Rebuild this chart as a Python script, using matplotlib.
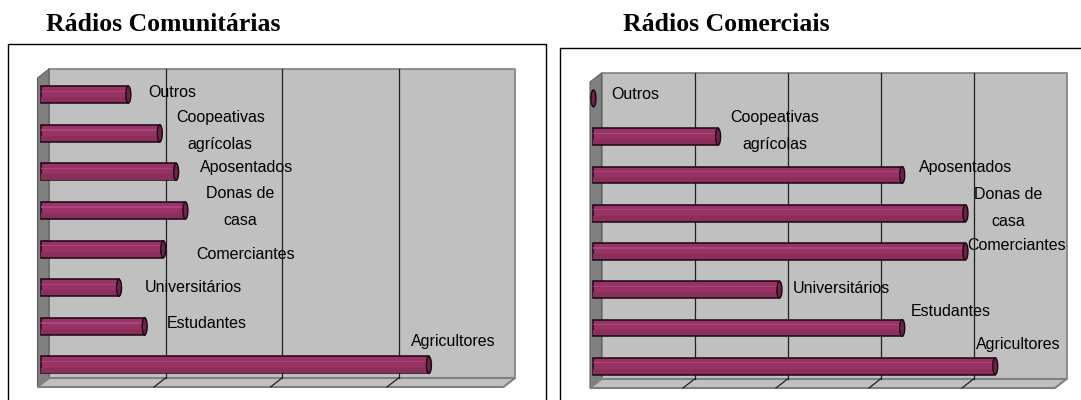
import numpy as np
import matplotlib.pyplot as plt
from matplotlib import font_manager
from matplotlib.patches import Rectangle, Polygon, Ellipse
from matplotlib.transforms import ScaledTranslation

# data (bottom -> top)
categories = ["Agricultores", "Estudantes", "Universitários", "Comerciantes",
              "Donas de\ncasa", "Aposentados", "Coopeativas\nagrícolas", "Outros"]
comunitarias = [33.3, 8.9, 6.7, 10.5, 12.4, 11.6, 10.2, 7.5]
comerciais = [21.6, 16.6, 10.0, 20.0, 20.0, 16.6, 6.7, 0.0]

# label offsets (pixels right, up) from bar end
offs_comunitarias = [(28, 26), (66, 6), (78, 3), (86, -3),
                     (58, 6), (74, 7), (64, 5), (47, 5)]
offs_comerciais = [(27, 24), (52, 19), (65, 4), (55, 9),
                   (46, 8), (67, 10), (60, 8), (45, 7)]

W, H = 1081, 400
DPI = 100
fig = plt.figure(figsize=(W / DPI, H / DPI), dpi=DPI)

names = {f.name for f in font_manager.fontManager.ttflist}
if "Liberation Sans Narrow" in names:
    lab_font, lab_size = "Liberation Sans Narrow", 13
else:
    lab_font, lab_size = "Liberation Sans", 11.5

BAR_C = "#993366"
CAP_C = "#6e2249"
EDGE_C = "#1a0510"
DEPTH = (11.5, 9.0)


def panel(box, title_x, front, xmax, step, values, offs, title):
    # outer frame
    bx0, by0, bx1 = box
    fig.patches.append(Rectangle((bx0 / W, -0.05), (bx1 - bx0) / W, 1 - by0 / H + 0.05,
                                 fill=False, ec="black", lw=1.0,
                                 transform=fig.transFigure, figure=fig))
    fig.text(title_x / W, 1 - 31 / H, title, ha="center", va="baseline",
             family="Liberation Serif", weight="bold", fontsize=18.5)

    x0, x1, ytop, ybot = front
    ax = fig.add_axes([x0 / W, 1 - ybot / H, (x1 - x0) / W, (ybot - ytop) / H])
    ax.set_xlim(0, xmax)
    ax.set_ylim(-0.5, len(values) - 0.5)
    ax.axis("off")
    dx = DEPTH[0] / (x1 - x0)
    dy = DEPTH[1] / (ybot - ytop)

    # walls
    ax.add_patch(Rectangle((dx, dy), 1, 1, transform=ax.transAxes, fc="#c0c0c0",
                           ec="#808080", lw=1.2, clip_on=False, zorder=0))
    ax.add_patch(Polygon([(0, 0), (0, 1), (dx, 1 + dy), (dx, dy)], closed=True,
                         transform=ax.transAxes, fc="#808080", ec="#606060", lw=0.8,
                         clip_on=False, zorder=0.5))
    ax.add_patch(Polygon([(0, 0), (1, 0), (1 + dx, dy), (dx, dy)], closed=True,
                         transform=ax.transAxes, fc="#c0c0c0", ec="#808080", lw=1.5,
                         clip_on=False, zorder=0.5))

    # gridlines on back wall and floor
    for v in np.arange(step, xmax, step):
        xa = v / xmax
        ax.plot([xa + dx, xa + dx], [dy, 1 + dy], transform=ax.transAxes,
                color="#202020", lw=0.9, clip_on=False, zorder=1)
        ax.plot([xa, xa + dx], [0, dy], transform=ax.transAxes,
                color="#202020", lw=0.9, clip_on=False, zorder=1)

    # cylinder bars
    shift = ax.transData + ScaledTranslation(DEPTH[0] * 0.3 / DPI, DEPTH[1] * 0.3 / DPI,
                                             fig.dpi_scale_trans)
    idx = np.arange(len(values))
    bh = 0.44
    bars = ax.barh(idx, values, height=bh, color=BAR_C, edgecolor=EDGE_C, lw=1.1,
                   zorder=2)
    for p in bars:
        p.set_transform(shift)
    ax.barh(idx + bh * 0.2, values, height=bh * 0.08, color="#a5497a", lw=0,
            zorder=2.1, transform=shift)
    ax.barh(idx - bh * 0.3, values, height=bh * 0.3, color="#8a2e5c", lw=0,
            zorder=2.1, transform=shift)
    cap_w = 5 * xmax / (x1 - x0)
    for i, v in zip(idx, values):
        ax.add_patch(Ellipse((v, i), cap_w, bh, fc=CAP_C, ec=EDGE_C, lw=1.0,
                             transform=shift, zorder=3, clip_on=False))

    # category labels
    for i, (v, cat, (ox, oy)) in enumerate(zip(values, categories, offs)):
        ax.annotate(cat, xy=(v, i), xytext=(ox, oy), textcoords="offset pixels",
                    ha="center", va="center", ma="center", family=lab_font,
                    fontsize=lab_size, linespacing=2.0, zorder=4,
                    annotation_clip=False)
    return ax


panel((8, 44, 546), 163, (37.5, 503.5, 78, 387), 40, 10, comunitarias,
      offs_comunitarias, "Rádios Comunitárias")
panel((560, 48, 1090), 726, (590, 1055, 82, 388), 25, 5, comerciais,
      offs_comerciais, "Rádios Comerciais")

fig.savefig("out.png", dpi=DPI)
